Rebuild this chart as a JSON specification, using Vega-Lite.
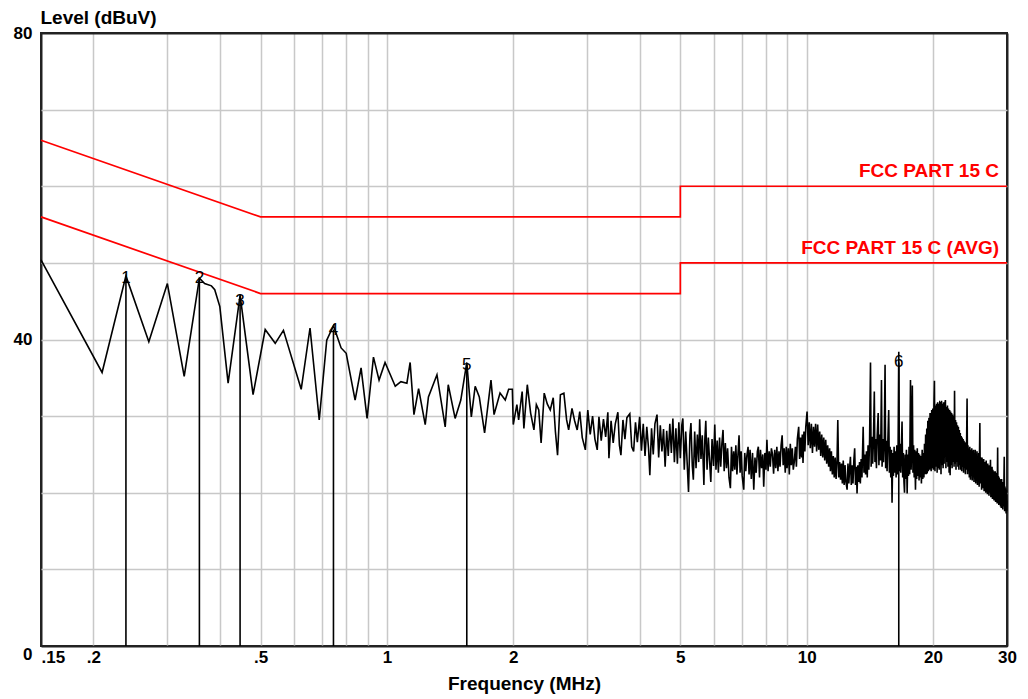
{
"$schema":"https://vega.github.io/schema/vega-lite/v6.json",
"autosize":"none",
"width":966,"height":613,
"padding":{"left":41,"top":33,"right":21,"bottom":53},
"background":"white",
"config":{"view":{"stroke":"#222222","strokeWidth":2},"font":"Liberation Sans"},
"datasets":{
"trace":[
{"f":0.15,"v":50.4},{"f":0.2097,"v":35.7},{"f":0.239,"v":48.3},{"f":0.271,"v":39.7},{"f":0.3,"v":47.3},{"f":0.329,"v":35.2},{"f":0.3576,"v":48.0},{"f":0.368,"v":47.3},{"f":0.382,"v":47.0},{"f":0.389,"v":46.5},{"f":0.4,"v":44.3},{"f":0.4186,"v":34.3},{"f":0.447,"v":45.8},{"f":0.48,"v":32.8},{"f":0.513,"v":41.3},{"f":0.542,"v":39.5},{"f":0.567,"v":41.2},{"f":0.625,"v":33.5},{"f":0.656,"v":41.5},{"f":0.69,"v":29.5},{"f":0.719,"v":39.9},{"f":0.746,"v":41.8},{"f":0.778,"v":38.9},{"f":0.8,"v":38.2},{"f":0.84,"v":32.1},{"f":0.868,"v":36.3},{"f":0.897,"v":29.7},{"f":0.929,"v":37.7},{"f":0.958,"v":34.7},{"f":0.99,"v":37.0},{"f":1.047,"v":33.9},{"f":1.08,"v":34.5},{"f":1.116,"v":34.3},{"f":1.136,"v":37.0},{"f":1.16,"v":30.2},{"f":1.19,"v":33.6},{"f":1.234,"v":28.9},{"f":1.256,"v":32.5},{"f":1.316,"v":35.4},{"f":1.377,"v":28.6},{"f":1.4,"v":34.1},{"f":1.454,"v":29.7},{"f":1.5,"v":32.1},{"f":1.55,"v":37.0},{"f":1.589,"v":29.9},{"f":1.623,"v":33.9},{"f":1.66,"v":32.5},{"f":1.709,"v":27.8},{"f":1.77,"v":34.7},{"f":1.8,"v":30.2},{"f":1.86,"v":33.0},{"f":1.914,"v":32.1},
{"f":1.95,"v":33.5},{"f":1.99,"v":33.5},{"f":2.0,"v":28.9},{"f":2.04,"v":31.5},{"f":2.06,"v":29.5},{"f":2.1,"v":33.2},{"f":2.12,"v":28.4},{"f":2.16,"v":34.1},{"f":2.2,"v":30.4},{"f":2.24,"v":28.2},{"f":2.27,"v":31.5},{"f":2.3,"v":30.8},{"f":2.33,"v":26.5},{"f":2.37,"v":33.0},{"f":2.41,"v":31.6},{"f":2.45,"v":30.8},{"f":2.49,"v":32.4},{"f":2.52,"v":28.0},{"f":2.55,"v":24.9},{"f":2.59,"v":32.8},{"f":2.64,"v":33.0},{"f":2.68,"v":29.5},{"f":2.71,"v":28.2},{"f":2.76,"v":31.0},{"f":2.8,"v":29.4},{"f":2.84,"v":28.2},{"f":2.88,"v":30.6},{"f":2.92,"v":27.2},{"f":2.97,"v":25.6},{"f":3.01,"v":30.8},{"f":3.05,"v":27.6},{"f":3.09,"v":30.0},{"f":3.13,"v":27.0},{"f":3.17,"v":25.6},{"f":3.2,"v":29.9},{"f":3.24,"v":26.8},{"f":3.28,"v":29.6},{"f":3.32,"v":27.3},{"f":3.36,"v":30.5},{"f":3.38,"v":24.5},{"f":3.42,"v":29.4},{"f":3.46,"v":26.5},{"f":3.5,"v":29.0},{"f":3.55,"v":30.5},{"f":3.58,"v":26.2},{"f":3.61,"v":24.9},{"f":3.65,"v":29.5},{"f":3.69,"v":27.0},{"f":3.73,"v":29.8},{"f":3.79,"v":30.3},{"f":3.83,"v":26.0},{"f":3.87,"v":25.4},{"f":3.91,"v":29.2},{"f":3.95,"v":26.6},{"f":4.0,"v":29.9},{"f":4.04,"v":25.5},{"f":4.08,"v":29.0},{"f":4.12,"v":24.8},{"f":4.16,"v":28.6},{"f":4.2,"v":25.8},{"f":4.23,"v":22.3},{"f":4.27,"v":28.4},{"f":4.31,"v":25.0},{"f":4.35,"v":29.0},{"f":4.4,"v":30.2},{"f":4.44,"v":24.6},{"f":4.48,"v":28.8},{"f":4.52,"v":25.4},{"f":4.56,"v":28.3},{"f":4.6,"v":23.4},{"f":4.64,"v":28.1},{"f":4.68,"v":24.8},{"f":4.72,"v":29.0},{"f":4.76,"v":25.2},{"f":4.8,"v":29.7},{"f":4.84,"v":24.0},{"f":4.88,"v":28.4},{"f":4.92,"v":23.8},{"f":4.96,"v":29.2},{"f":5.0,"v":24.5},
{"f":5.04,"v":28.8},{"f":5.07,"v":29.7},{"f":5.11,"v":23.0},{"f":5.15,"v":28.0},{"f":5.19,"v":24.0},{"f":5.23,"v":20.1},{"f":5.27,"v":27.5},{"f":5.3,"v":29.1},{"f":5.34,"v":23.5},{"f":5.37,"v":21.7},{"f":5.41,"v":28.0},{"f":5.45,"v":23.2},{"f":5.49,"v":27.6},{"f":5.53,"v":24.0},{"f":5.56,"v":29.6},{"f":5.6,"v":24.4},{"f":5.64,"v":27.5},{"f":5.69,"v":21.0},{"f":5.72,"v":27.0},{"f":5.75,"v":29.4},{"f":5.79,"v":23.0},{"f":5.83,"v":27.2},{"f":5.87,"v":24.2},{"f":5.91,"v":21.4},{"f":5.95,"v":27.0},{"f":6.0,"v":23.5},{"f":6.04,"v":28.9},{"f":6.08,"v":23.0},{"f":6.12,"v":26.8},{"f":6.16,"v":22.6},{"f":6.2,"v":27.2},{"f":6.24,"v":23.4},{"f":6.28,"v":26.4},{"f":6.32,"v":28.2},{"f":6.36,"v":22.8},{"f":6.4,"v":26.5},{"f":6.44,"v":23.2},{"f":6.48,"v":25.8},{"f":6.53,"v":22.0},{"f":6.58,"v":20.6},{"f":6.62,"v":26.0},{"f":6.66,"v":22.8},{"f":6.7,"v":25.4},{"f":6.74,"v":23.0},{"f":6.78,"v":26.2},{"f":6.82,"v":22.4},{"f":6.86,"v":25.0},{"f":6.9,"v":27.5},{"f":6.94,"v":22.6},{"f":6.98,"v":25.4},{"f":7.02,"v":22.2},{"f":7.08,"v":20.4},{"f":7.12,"v":25.2},{"f":7.16,"v":22.8},{"f":7.2,"v":24.8},
{"f":7.25,"v":26.0},{"f":7.29,"v":22.4},{"f":7.33,"v":25.6},{"f":7.38,"v":21.8},{"f":7.43,"v":25.2},{"f":7.48,"v":20.4},{"f":7.53,"v":24.6},{"f":7.58,"v":22.6},{"f":7.63,"v":25.4},{"f":7.67,"v":26.0},{"f":7.72,"v":22.0},{"f":7.76,"v":25.6},{"f":7.81,"v":23.2},{"f":7.86,"v":25.0},{"f":7.9,"v":20.8},{"f":7.95,"v":25.2},{"f":8.0,"v":23.0},{"f":8.04,"v":26.9},{"f":8.09,"v":22.8},{"f":8.14,"v":25.4},{"f":8.19,"v":23.4},{"f":8.24,"v":25.8},{"f":8.29,"v":25.0},{"f":8.34,"v":22.5},{"f":8.39,"v":25.6},{"f":8.44,"v":23.2},{"f":8.49,"v":26.0},{"f":8.54,"v":22.8},{"f":8.59,"v":25.4},{"f":8.64,"v":23.4},{"f":8.69,"v":26.2},{"f":8.74,"v":27.5},{"f":8.79,"v":23.6},{"f":8.84,"v":25.8},{"f":8.89,"v":22.6},{"f":8.94,"v":26.0},{"f":8.98,"v":23.2},{"f":9.04,"v":25.8},{"f":9.09,"v":22.4},{"f":9.14,"v":26.4},{"f":9.19,"v":23.6},{"f":9.24,"v":25.8},{"f":9.29,"v":23.0},{"f":9.34,"v":24.0},{"f":9.4,"v":26.0},{"f":9.45,"v":23.4},{"f":9.5,"v":27.0},{"f":9.57,"v":28.6},{"f":9.62,"v":24.4},{"f":9.67,"v":27.2},{"f":9.72,"v":24.6},{"f":9.76,"v":27.6},{"f":9.8,"v":23.9},{"f":9.85,"v":28.0},{"f":9.9,"v":25.4},{"f":9.95,"v":28.6},{"f":10.02,"v":30.6},
{"f":10.08,"v":26.2},{"f":10.14,"v":29.2},{"f":10.2,"v":25.8},{"f":10.26,"v":29.0},{"f":10.32,"v":25.2},{"f":10.38,"v":28.6},{"f":10.44,"v":26.0},{"f":10.5,"v":29.0},{"f":10.56,"v":25.4},{"f":10.62,"v":28.9},{"f":10.68,"v":25.6},{"f":10.74,"v":28.0},{"f":10.8,"v":24.8},{"f":10.86,"v":27.6},{"f":10.92,"v":24.6},{"f":10.98,"v":27.2},{"f":11.04,"v":24.2},{"f":11.1,"v":26.9},{"f":11.16,"v":23.8},{"f":11.22,"v":26.2},{"f":11.28,"v":23.4},{"f":11.34,"v":25.8},{"f":11.39,"v":22.8},{"f":11.45,"v":25.4},{"f":11.51,"v":22.4},{"f":11.57,"v":24.8},{"f":11.63,"v":22.0},{"f":11.69,"v":24.6},{"f":11.75,"v":21.8},{"f":11.81,"v":24.2},{"f":11.86,"v":29.5},{"f":11.92,"v":22.0},{"f":11.98,"v":24.0},{"f":12.04,"v":21.7},{"f":12.1,"v":23.8},{"f":12.16,"v":21.2},{"f":12.22,"v":24.2},{"f":12.28,"v":21.0},{"f":12.34,"v":23.6},{"f":12.4,"v":21.4},{"f":12.48,"v":20.4},{"f":12.54,"v":23.8},{"f":12.6,"v":21.2},{"f":12.66,"v":23.4},{"f":12.71,"v":24.7},{"f":12.77,"v":21.0},{"f":12.83,"v":23.6},{"f":12.89,"v":21.2},{"f":12.95,"v":24.2},{"f":13.01,"v":25.8},{"f":13.07,"v":21.0},{"f":13.13,"v":23.4},{"f":13.18,"v":19.9},{"f":13.24,"v":23.6},{"f":13.3,"v":21.4},{"f":13.36,"v":24.0},{"f":13.42,"v":21.2},{"f":13.48,"v":24.4},{"f":13.54,"v":22.0},{"f":13.63,"v":28.6},{"f":13.69,"v":22.6},{"f":13.75,"v":25.0},{"f":13.81,"v":22.4},{"f":13.88,"v":25.4},{"f":13.94,"v":22.0},
{"f":14.0,"v":26.2},{"f":14.06,"v":23.0},{"f":14.12,"v":27.0},{"f":14.19,"v":37.0},{"f":14.24,"v":23.4},{"f":14.3,"v":27.3},{"f":14.36,"v":23.8},{"f":14.42,"v":26.8},{"f":14.49,"v":33.2},{"f":14.54,"v":24.0},{"f":14.6,"v":27.0},{"f":14.66,"v":23.2},{"f":14.72,"v":27.4},{"f":14.8,"v":30.4},{"f":14.86,"v":23.6},{"f":14.92,"v":27.6},{"f":15.0,"v":24.2},{"f":15.07,"v":34.7},{"f":15.12,"v":23.4},{"f":15.18,"v":27.0},{"f":15.24,"v":24.0},{"f":15.3,"v":26.6},{"f":15.37,"v":36.7},{"f":15.42,"v":23.2},{"f":15.48,"v":26.8},{"f":15.54,"v":22.8},{"f":15.6,"v":26.4},{"f":15.68,"v":30.8},{"f":15.74,"v":22.6},{"f":15.8,"v":26.0},{"f":15.86,"v":22.0},{"f":15.92,"v":25.6},{"f":15.97,"v":18.7},{"f":16.03,"v":25.2},{"f":16.09,"v":22.2},{"f":16.15,"v":26.0},{"f":16.21,"v":22.6},{"f":16.27,"v":25.4},{"f":16.33,"v":22.0},{"f":16.39,"v":26.2},{"f":16.45,"v":22.4},{"f":16.51,"v":25.8},{"f":16.57,"v":38.4},{"f":16.63,"v":22.8},{"f":16.69,"v":26.4},{"f":16.75,"v":22.6},{"f":16.81,"v":25.8},{"f":16.87,"v":29.3},{"f":16.93,"v":22.0},{"f":16.99,"v":25.2},{"f":17.05,"v":21.4},{"f":17.1,"v":20.0},{"f":17.16,"v":25.0},{"f":17.22,"v":21.8},{"f":17.28,"v":25.6},{"f":17.35,"v":19.9},{"f":17.41,"v":25.0},{"f":17.47,"v":22.2},{"f":17.53,"v":26.0},{"f":17.59,"v":22.4},{"f":17.67,"v":34.7},{"f":17.73,"v":23.0},{"f":17.79,"v":26.4},{"f":17.85,"v":34.0},{"f":17.91,"v":22.6},{"f":17.97,"v":26.2},{"f":18.03,"v":22.0},{"f":18.09,"v":25.6},{"f":18.16,"v":20.4},{"f":18.22,"v":25.4},{"f":18.28,"v":21.8},{"f":18.34,"v":25.8},{"f":18.4,"v":22.2},{"f":18.46,"v":25.2},{"f":18.52,"v":21.6},{"f":18.58,"v":25.0},{"f":18.64,"v":22.0},{"f":18.7,"v":24.8},{"f":18.76,"v":21.2},{"f":18.84,"v":25.6},{"f":18.9,"v":21.8},{"f":18.96,"v":25.2},{"f":19.02,"v":22.0},{"f":19.08,"v":26.4},{"f":19.14,"v":22.4},{"f":19.2,"v":27.6},{"f":19.26,"v":22.4},{"f":19.32,"v":28.4},{"f":19.37,"v":22.5},{"f":19.43,"v":29.4},{"f":19.49,"v":22.8},{"f":19.55,"v":29.8},{"f":19.61,"v":23.0},{"f":19.67,"v":30.4},{"f":19.73,"v":29.1},{"f":19.79,"v":22.8},{"f":19.85,"v":30.8},{"f":19.91,"v":23.2},{"f":19.97,"v":31.0},
{"f":20.03,"v":23.0},{"f":20.09,"v":31.2},{"f":20.15,"v":34.6},{"f":20.21,"v":22.8},{"f":20.27,"v":31.4},{"f":20.33,"v":23.4},{"f":20.39,"v":31.6},{"f":20.45,"v":22.6},{"f":20.51,"v":31.8},{"f":20.57,"v":23.2},{"f":20.63,"v":31.6},{"f":20.69,"v":23.0},{"f":20.75,"v":31.8},{"f":20.83,"v":31.7},{"f":20.89,"v":22.4},{"f":20.95,"v":32.0},{"f":21.01,"v":23.6},{"f":21.07,"v":31.6},{"f":21.13,"v":23.2},{"f":21.19,"v":31.8},{"f":21.25,"v":23.8},{"f":21.31,"v":31.4},{"f":21.4,"v":32.1},{"f":21.46,"v":23.2},{"f":21.52,"v":31.2},{"f":21.58,"v":24.0},{"f":21.64,"v":31.4},{"f":21.7,"v":23.4},{"f":21.76,"v":31.0},{"f":21.84,"v":22.6},{"f":21.9,"v":30.8},{"f":21.96,"v":22.3},{"f":22.02,"v":30.6},{"f":22.08,"v":23.6},{"f":22.14,"v":30.4},{"f":22.2,"v":23.2},{"f":22.26,"v":30.2},{"f":22.32,"v":24.0},{"f":22.38,"v":30.0},{"f":22.44,"v":23.4},{"f":22.5,"v":33.3},{"f":22.56,"v":23.8},{"f":22.62,"v":29.5},{"f":22.68,"v":23.0},{"f":22.74,"v":29.2},{"f":22.8,"v":24.0},{"f":22.86,"v":28.8},{"f":22.92,"v":23.4},{"f":22.98,"v":28.6},{"f":23.04,"v":23.0},{"f":23.1,"v":28.2},{"f":23.16,"v":23.6},{"f":23.22,"v":27.8},{"f":23.28,"v":23.0},{"f":23.34,"v":27.4},{"f":23.4,"v":22.8},{"f":23.46,"v":27.2},{"f":23.52,"v":23.4},{"f":23.58,"v":27.0},{"f":23.64,"v":22.6},{"f":23.7,"v":26.8},{"f":23.76,"v":23.2},{"f":23.82,"v":26.6},{"f":23.88,"v":22.4},{"f":23.94,"v":26.4},{"f":24.0,"v":23.0},{"f":24.1,"v":32.3},{"f":24.16,"v":22.4},{"f":24.22,"v":26.2},{"f":24.28,"v":22.8},{"f":24.34,"v":25.8},{"f":24.4,"v":22.0},{"f":24.46,"v":26.0},{"f":24.55,"v":21.7},{"f":24.61,"v":25.6},{"f":24.67,"v":22.2},{"f":24.73,"v":25.8},{"f":24.79,"v":21.6},{"f":24.85,"v":25.4},{"f":24.91,"v":22.0},{"f":24.97,"v":25.6},{"f":25.03,"v":21.4},{"f":25.09,"v":25.2},{"f":25.15,"v":21.8},{"f":25.21,"v":25.6},{"f":25.27,"v":21.2},{"f":25.33,"v":25.0},{"f":25.39,"v":21.6},{"f":25.45,"v":25.4},{"f":25.51,"v":21.0},{"f":25.57,"v":24.8},{"f":25.63,"v":21.4},{"f":25.69,"v":25.2},{"f":25.75,"v":20.8},{"f":25.85,"v":29.1},{"f":25.91,"v":21.2},{"f":25.97,"v":24.6},{"f":26.03,"v":24.4},{"f":26.1,"v":20.4},{"f":26.16,"v":24.6},{"f":26.22,"v":20.8},{"f":26.28,"v":24.2},{"f":26.34,"v":20.6},{"f":26.4,"v":24.4},{"f":26.46,"v":20.2},{"f":26.52,"v":24.0},{"f":26.58,"v":20.6},{"f":26.64,"v":23.8},{"f":26.7,"v":20.0},{"f":26.76,"v":24.2},{"f":26.82,"v":20.4},{"f":26.88,"v":23.6},{"f":26.94,"v":19.8},{"f":27.0,"v":23.8},{"f":27.06,"v":20.2},{"f":27.12,"v":23.4},{"f":27.18,"v":19.6},{"f":27.24,"v":23.6},{"f":27.3,"v":20.0},{"f":27.4,"v":24.3},{"f":27.46,"v":19.4},{"f":27.52,"v":23.2},{"f":27.58,"v":19.8},{"f":27.64,"v":23.4},{"f":27.7,"v":19.2},{"f":27.76,"v":23.0},{"f":27.82,"v":19.6},{"f":27.88,"v":22.8},{"f":27.94,"v":19.0},{"f":28.0,"v":22.6},{"f":28.06,"v":19.4},{"f":28.12,"v":22.8},{"f":28.18,"v":18.8},{"f":28.24,"v":22.4},{"f":28.3,"v":19.2},{"f":28.36,"v":22.6},{"f":28.42,"v":18.6},{"f":28.5,"v":25.9},{"f":28.56,"v":18.8},{"f":28.62,"v":22.2},{"f":28.68,"v":18.4},{"f":28.74,"v":22.0},{"f":28.8,"v":18.6},{"f":28.86,"v":21.8},{"f":28.95,"v":18.2},{"f":29.01,"v":21.6},{"f":29.07,"v":18.0},{"f":29.13,"v":21.8},{"f":29.19,"v":18.4},{"f":29.25,"v":21.4},{"f":29.31,"v":17.8},{"f":29.37,"v":21.2},{"f":29.43,"v":18.2},{"f":29.49,"v":21.0},{"f":29.55,"v":24.7},{"f":29.61,"v":17.6},{"f":29.67,"v":20.8},{"f":29.73,"v":17.8},{"f":29.79,"v":20.6},{"f":29.85,"v":17.3},{"f":29.91,"v":20.4},{"f":29.97,"v":17.6},{"f":30.0,"v":19.0}
],
"limits":[
{"name":"QP","i":0,"f":0.15,"v":66},{"name":"QP","i":1,"f":0.5,"v":56},{"name":"QP","i":2,"f":5,"v":56},{"name":"QP","i":3,"f":5,"v":60},{"name":"QP","i":4,"f":30,"v":60},
{"name":"AVG","i":0,"f":0.15,"v":56},{"name":"AVG","i":1,"f":0.5,"v":46},{"name":"AVG","i":2,"f":5,"v":46},{"name":"AVG","i":3,"f":5,"v":50},{"name":"AVG","i":4,"f":30,"v":50}
],
"limitLabels":[
{"label":"FCC PART 15 C","f":30,"v":60},
{"label":"FCC PART 15 C (AVG)","f":30,"v":50}
],
"markers":[
{"n":"1","f":0.239,"v":48.0},{"n":"2","f":0.3576,"v":48.0},{"n":"3","f":0.447,"v":45.0},{"n":"4","f":0.746,"v":41.3},{"n":"5","f":1.55,"v":36.7},{"n":"6","f":16.57,"v":37.0}
]
},
"encoding":{
"x":{"field":"f","type":"quantitative","scale":{"type":"log","domain":[0.15,30],"nice":false},
"axis":{"values":[0.15,0.2,0.3,0.4,0.5,0.6,0.7,0.8,0.9,1,2,3,4,5,6,7,8,9,10,20,30],
"format":"~g",
"labelExpr":"indexof([0.15,0.2,0.5,1,2,5,10,20,30], datum.value) >= 0 ? (datum.value < 1 ? substring(datum.label, 1) : datum.label) : ''",
"labelAlign":{"condition":{"test":"datum.value == 0.15","value":"left"},"value":"center"},
"labelOverlap":false,"labelFont":"Liberation Sans","labelFontWeight":"bold","labelFontSize":17,"labelColor":"#000000","labelPadding":3,
"grid":true,"gridColor":{"condition":{"test":"datum.value == 0.15 || datum.value == 30","value":"#222222"},"value":"#c8c8c8"},"gridWidth":{"condition":{"test":"datum.value == 0.15 || datum.value == 30","value":2},"value":1.5},"ticks":false,"domain":false,
"title":"Frequency (MHz)","titleFont":"Liberation Sans","titleFontWeight":"bold","titleFontSize":19,"titleColor":"#000000","titlePadding":9}},
"y":{"field":"v","type":"quantitative","scale":{"domain":[0,80],"nice":false},
"axis":{"values":[0,10,20,30,40,50,60,70,80],
"labelExpr":"datum.value % 40 == 0 ? datum.label : ''",
"labelBaseline":{"condition":{"test":"datum.value == 0","value":"top"},"value":"middle"},
"labelFont":"Liberation Sans","labelFontWeight":"bold","labelFontSize":17,"labelColor":"#000000","labelPadding":9,
"grid":true,"gridColor":{"condition":{"test":"datum.value == 0 || datum.value == 80","value":"#222222"},"value":"#c8c8c8"},"gridWidth":{"condition":{"test":"datum.value == 0 || datum.value == 80","value":2},"value":1.5},"ticks":false,"domain":false,
"title":"Level (dBuV)","titleAngle":0,"titleX":-1,"titleY":-16,"titleAlign":"left","titleBaseline":"middle",
"titleFont":"Liberation Sans","titleFontWeight":"bold","titleFontSize":19,"titleColor":"#000000"}}
},
"layer":[
{"data":{"name":"trace"},"mark":{"type":"line","color":"#000000","strokeWidth":1.6}},
{"data":{"name":"limits"},"mark":{"type":"line","color":"#ff0000","strokeWidth":1.7},
 "encoding":{"detail":{"field":"name"},"order":{"field":"i","type":"quantitative"}}},
{"data":{"name":"markers"},"mark":{"type":"rule","color":"#000000","strokeWidth":1.6},
 "encoding":{"y2":{"datum":0}}},
{"data":{"name":"markers"},"mark":{"type":"text","color":"#000000","fontSize":17,"font":"Liberation Sans","baseline":"middle","align":"center"},
 "encoding":{"text":{"field":"n"}}},
{"data":{"name":"limitLabels"},"mark":{"type":"text","color":"#ff0000","fontSize":19,"fontWeight":"bold","font":"Liberation Sans","baseline":"bottom","align":"right","dx":-8,"dy":-5},
 "encoding":{"text":{"field":"label"}}},
{"data":{"values":[{"t":"Date: 2008-03-14"}]},"mark":{"type":"text","color":"#000000","fontSize":19,"fontWeight":"bold","font":"Liberation Sans","baseline":"middle","align":"right","dx":1,"dy":-17},
 "encoding":{"x":{"datum":30},"y":{"datum":80},"text":{"field":"t"}}}
]
}
